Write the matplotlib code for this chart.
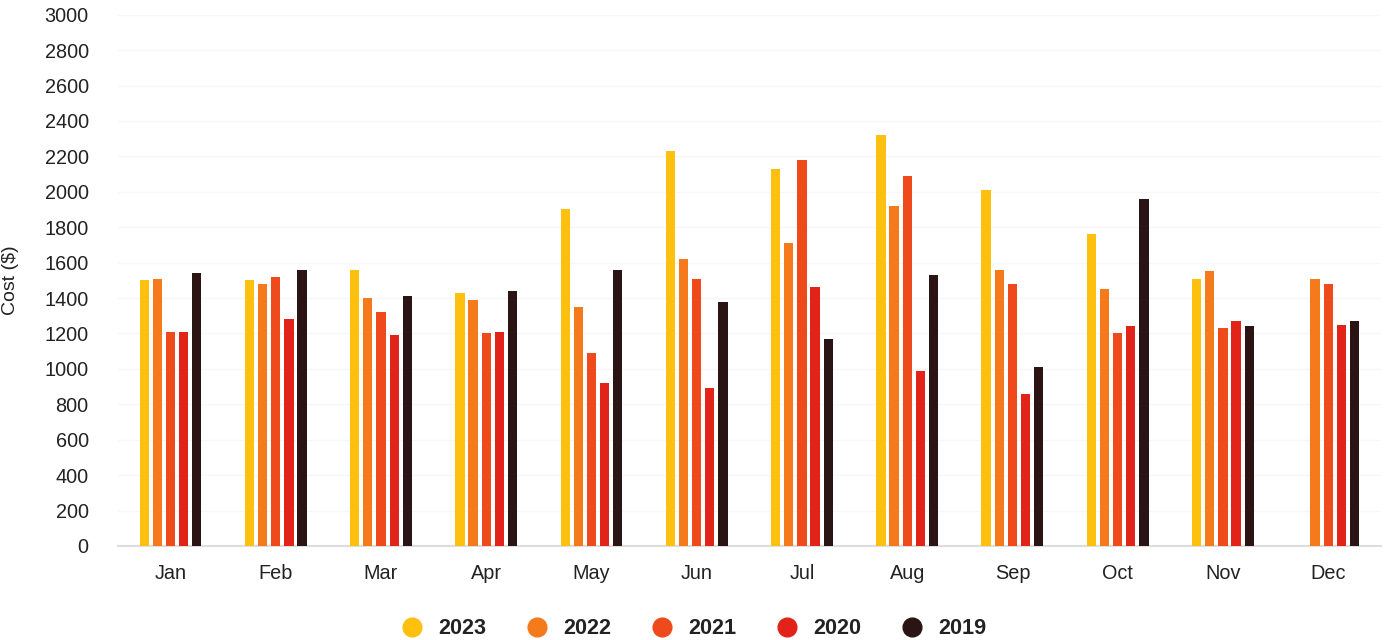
import numpy as np
import matplotlib.pyplot as plt
from matplotlib.lines import Line2D

plt.rcParams['font.family'] = ['Liberation Sans', 'DejaVu Sans']

months = ["Jan", "Feb", "Mar", "Apr", "May", "Jun",
          "Jul", "Aug", "Sep", "Oct", "Nov", "Dec"]
years = ["2023", "2022", "2021", "2020", "2019"]

# monthly cost per year (no data yet for Dec 2023)
cost_2023 = [1500, 1500, 1560, 1430, 1900, 2230, 2130, 2320, 2010, 1760, 1510, np.nan]
cost_2022 = [1510, 1480, 1400, 1390, 1350, 1620, 1710, 1920, 1560, 1450, 1550, 1510]
cost_2021 = [1210, 1520, 1320, 1200, 1090, 1510, 2180, 2090, 1480, 1200, 1230, 1480]
cost_2020 = [1210, 1280, 1190, 1210, 920, 890, 1460, 990, 860, 1240, 1270, 1250]
cost_2019 = [1540, 1560, 1410, 1440, 1560, 1380, 1170, 1530, 1010, 1960, 1240, 1270]

series = [cost_2023, cost_2022, cost_2021, cost_2020, cost_2019]
colors = ["#FDC00F", "#F47A1C", "#EE4A1B", "#E2231A", "#2A1514"]

fig = plt.figure(figsize=(13.87, 6.4), dpi=100)
ax = fig.add_axes([0.085, 0.147, 0.9105, 0.83])

x = np.arange(len(months))
slot = 0.125
width = 0.088
for i, (vals, c) in enumerate(zip(series, colors)):
    ax.bar(x + (i - 2) * slot, vals, width=width, color=c, zorder=3)

ax.set_xlim(-0.5, 11.5)
ax.set_ylim(0, 3000)
ax.set_yticks(range(0, 3001, 200))
ax.set_xticks(x)
ax.set_xticklabels(months, fontsize=14.3, color="#222222")
ax.tick_params(axis='y', labelsize=14.3, length=0, pad=21, colors="#222222")
ax.tick_params(axis='x', length=0, pad=13)
ax.set_ylabel("Cost ($)", fontsize=14, color="#222222")
ax.yaxis.set_label_coords(-0.078, 0.5)

ax.grid(axis='y', color="#f7f7f7", linewidth=1, zorder=0)
for side in ["top", "right", "left"]:
    ax.spines[side].set_visible(False)
ax.spines["bottom"].set_color("#dddddd")
ax.spines["bottom"].set_linewidth(1.5)

handles = [Line2D([], [], marker='o', linestyle='none', markersize=13.5,
                  markerfacecolor=c, markeredgecolor=c) for c in colors]
leg = fig.legend(handles, years, loc='center', ncol=5, frameon=False,
                 bbox_to_anchor=(0.5, 11 / 640), columnspacing=1.85,
                 handlelength=1.0, handletextpad=0.7,
                 prop={'size': 15.6, 'weight': 'bold'})
for t in leg.get_texts():
    t.set_color("#222222")

fig.savefig("out.png", dpi=100)
